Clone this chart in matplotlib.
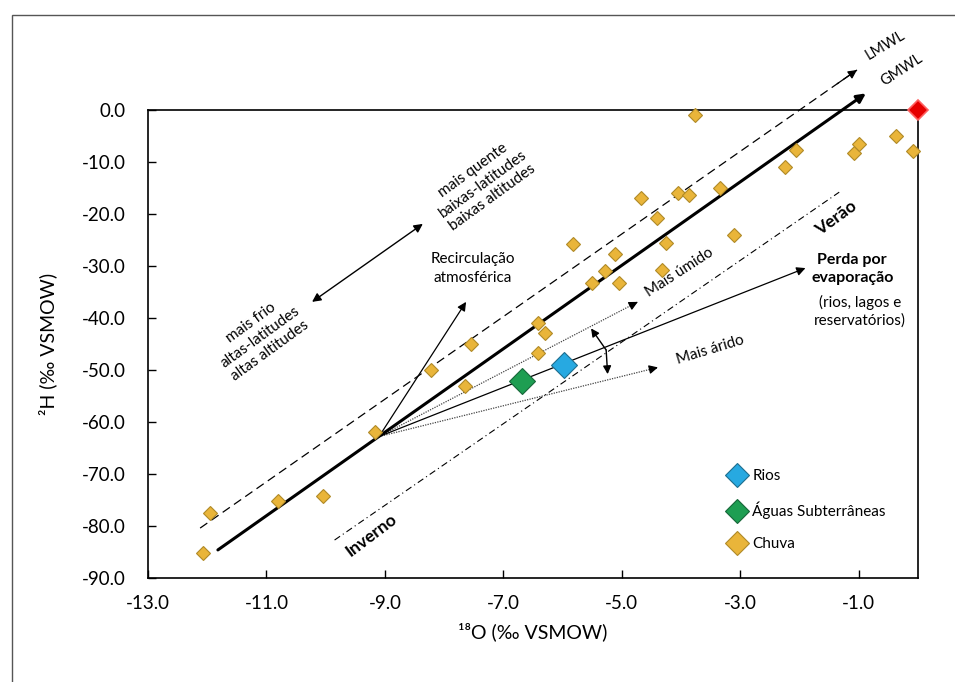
import matplotlib
matplotlib.use("Agg")
import matplotlib.pyplot as plt
from matplotlib.patches import Rectangle
from matplotlib.lines import Line2D

plt.rcParams['font.family'] = ['Lato', 'DejaVu Sans']

# ---- data ----
chuva_x = [-12.07, -11.95, -10.80, -10.05, -9.17, -8.23, -7.55, -7.64, -6.42, -6.29,
           -6.41, -5.50, -5.29, -5.04, -5.12, -5.83, -4.33, -4.26, -4.40, -4.67,
           -4.06, -3.86, -3.34, -3.10, -3.76, -2.24, -2.06, -1.08, -0.99, -0.37, -0.09]
chuva_y = [-85.2, -77.5, -75.2, -74.2, -62.0, -50.0, -45.0, -53.0, -41.0, -42.9,
           -46.7, -33.3, -30.9, -33.3, -27.7, -25.8, -30.8, -25.5, -20.8, -16.9,
           -16.0, -16.3, -15.0, -24.0, -1.0, -10.9, -7.7, -8.2, -6.5, -5.0, -7.8]
rios_x, rios_y = [-5.98], [-49.0]
subt_x, subt_y = [-6.68], [-52.1]
vsmow_x, vsmow_y = [0.0], [0.0]

# reference lines (start, end)
gmwl_x, gmwl_y = [-11.82, -0.88], [-84.6, 3.2]
lmwl_x, lmwl_y = [-12.12, -1.03], [-80.4, 7.7]
season_x, season_y = [-9.85, -1.33], [-82.7, -15.8]
origin = (-9.1, -62.8)
evap_tip = (-1.9, -30.4)
umido_tip = (-4.73, -36.9)
arido_tip = (-4.39, -49.5)
recirc_tip = (-7.63, -36.9)
temp_ends = [(-10.23, -36.9), (-8.36, -21.9)]

x_ticks = [-13.0, -11.0, -9.0, -7.0, -5.0, -3.0, -1.0]
y_ticks = [0.0, -10.0, -20.0, -30.0, -40.0, -50.0, -60.0, -70.0, -80.0, -90.0]

c_chuva, e_chuva = '#E9B53A', '#B08A28'
c_rios, e_rios = '#27A9E1', '#1E6E8E'
c_subt, e_subt = '#1E9E52', '#17673A'

fig = plt.figure(figsize=(9.55, 6.82), dpi=100)
ax = fig.add_axes([148/955, 1-578/682, 770/955, 468/682])
fig.add_artist(Rectangle((12/955, -0.1), 1.2, 1.1-15/682, transform=fig.transFigure,
                         fill=False, lw=1.0, ec='#555555'))

def head(tip, tail, lw=0.9, ms=13):
    ax.annotate('', xy=tip, xytext=(tip[0] - 0.03*(tip[0]-tail[0]), tip[1] - 0.03*(tip[1]-tail[1])),
                arrowprops=dict(arrowstyle='-|>', lw=lw, color='black', mutation_scale=ms,
                                shrinkA=0, shrinkB=0), annotation_clip=False)

def arrow(tip, tail, lw=0.9, ms=13, style='-|>'):
    ax.annotate('', xy=tip, xytext=tail,
                arrowprops=dict(arrowstyle=style, lw=lw, color='black', mutation_scale=ms,
                                shrinkA=0, shrinkB=0), annotation_clip=False)

# LMWL dashed
ax.plot(lmwl_x, lmwl_y, color='black', lw=0.9, ls=(0, (7, 4)), clip_on=False)
head((lmwl_x[1], lmwl_y[1]), (lmwl_x[0], lmwl_y[0]))
# GMWL thick solid
arrow((gmwl_x[1], gmwl_y[1]), (gmwl_x[0], gmwl_y[0]), lw=2.2, ms=13)
# seasons dash-dot
ax.plot(season_x, season_y, color='black', lw=0.8, ls=(0, (6, 3, 1, 3)))
# evaporation fan
arrow(evap_tip, origin, lw=0.9)
ax.plot([origin[0], umido_tip[0]], [origin[1], umido_tip[1]], color='#444444', lw=0.9, ls=(0, (1, 1)))
head(umido_tip, origin)
ax.plot([origin[0], arido_tip[0]], [origin[1], arido_tip[1]], color='#444444', lw=0.9, ls=(0, (1, 1)))
head(arido_tip, origin)
arrow(recirc_tip, origin, lw=0.9)
# temperature double arrow
arrow(temp_ends[1], temp_ends[0], lw=1.0, ms=13, style='<|-|>')
# small arrows between humid / arid
arrow((-5.52, -42.0), (-5.265, -46.15), lw=1.0, ms=12)
arrow((-5.24, -50.8), (-5.265, -46.15), lw=1.0, ms=12)

# points
ax.plot(chuva_x, chuva_y, 'D', ms=7.5, mfc=c_chuva, mec=e_chuva, mew=0.8, ls='none',
        zorder=5, clip_on=False)
ax.plot(rios_x, rios_y, 'D', ms=13, mfc=c_rios, mec=e_rios, mew=0.8, ls='none', zorder=6)
ax.plot(subt_x, subt_y, 'D', ms=13, mfc=c_subt, mec=e_subt, mew=0.8, ls='none', zorder=6)
ax.plot(vsmow_x, vsmow_y, 'D', ms=10, mfc='#E60000', mec='#FF6060', mew=1.2, ls='none',
        zorder=7, clip_on=False)

# text
ax.text(-7.35, -14.2, 'mais quente\nbaixas-latitudes\nbaixas altitudes', rotation=36,
        ha='center', va='center', rotation_mode='anchor', fontsize=11, linespacing=1.25)
ax.text(-11.1, -43.6, 'mais frio\naltas-latitudes\naltas altitudes', rotation=36,
        ha='center', va='center', rotation_mode='anchor', fontsize=11, linespacing=1.25)
ax.text(-7.51, -30.4, 'Recirculação\natmosférica', ha='center', va='center', fontsize=11,
        linespacing=1.45)
ax.text(-4.02, -31.3, 'Mais úmido', rotation=33, ha='center', va='center',
        rotation_mode='anchor', fontsize=11)
ax.text(-3.51, -46.2, 'Mais árido', rotation=17, ha='center', va='center',
        rotation_mode='anchor', fontsize=11)
ax.text(-1.38, -20.8, 'Verão', rotation=36, ha='center', va='center',
        rotation_mode='anchor', fontsize=12.5, fontweight='bold')
ax.text(-9.22, -81.7, 'Inverno', rotation=37, ha='center', va='center',
        rotation_mode='anchor', fontsize=12.5, fontweight='bold')
ax.text(-1.11, -30.6, 'Perda por\nevaporação', ha='center', va='center', fontsize=11.5,
        fontweight='bold', linespacing=1.3)
ax.text(-0.98, -38.8, '(rios, lagos e\nreservatórios)', ha='center', va='center',
        fontsize=11, linespacing=1.3)
ax.text(-0.56, 12.5, 'LMWL', rotation=31, ha='center', va='center', rotation_mode='anchor',
        fontsize=10.5)
ax.text(-0.27, 7.7, 'GMWL', rotation=33, ha='center', va='center', rotation_mode='anchor',
        fontsize=10.5)

# axes
ax.set_xlim(-13, 0)
ax.set_ylim(-90, 0)
ax.set_xticks(x_ticks)
ax.set_xticklabels([f'{v:.1f}' for v in x_ticks])
ax.set_yticks(y_ticks)
ax.set_yticklabels([f'{v:.1f}' for v in y_ticks])
ax.tick_params(direction='in', length=6, width=1, labelsize=13.5, pad=12)
ax.tick_params(axis='y', pad=16)
for s in ax.spines.values():
    s.set_linewidth(1.2)
ax.set_xlabel('¹⁸O (‰ VSMOW)', fontsize=14, labelpad=8)
ax.set_ylabel('²H (‰ VSMOW)', fontsize=14, labelpad=18)

handles = [Line2D([], [], marker='D', ms=12, mfc=c, mec=e, mew=0.8, ls='none')
           for c, e in [(c_rios, e_rios), (c_subt, e_subt), (c_chuva, e_chuva)]]
ax.legend(handles, ['Rios', 'Águas Subterrâneas', 'Chuva'], loc='upper left',
          bbox_to_anchor=(0.735, 0.262), frameon=False, fontsize=11,
          labelspacing=1.2, handletextpad=0.4, handlelength=1.2)

fig.savefig('out.png', dpi=100)
